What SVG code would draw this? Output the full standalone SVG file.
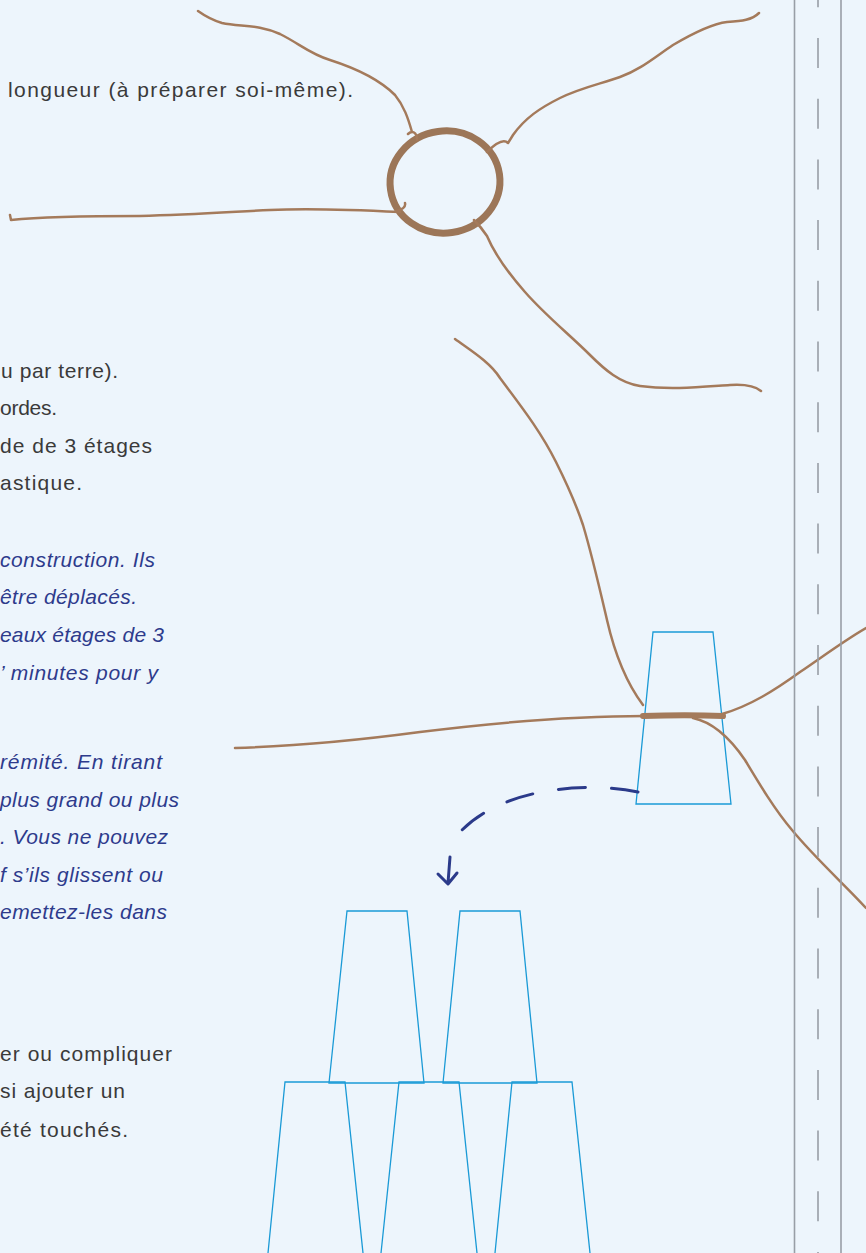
<svg xmlns="http://www.w3.org/2000/svg" width="866" height="1253" viewBox="0 0 866 1253">
  <defs>
    <style>
      .txt { font-family: "Liberation Sans", "DejaVu Sans", sans-serif; font-size: 21px; fill: #3a3a3a; }
      .note { font-family: "Liberation Sans", "DejaVu Sans", sans-serif; font-size: 21px; font-style: italic; fill: #2e3b8c; }
      .rope { fill: none; stroke: #a47a5b; stroke-width: 2.5; stroke-linecap: round; stroke-linejoin: round; }
      .ring { fill: none; stroke: #9c7658; stroke-width: 7; }
      .band { fill: none; stroke: #a47a5b; stroke-width: 6; stroke-linecap: round; }
      .cup { fill: none; stroke: #1a9ad6; stroke-width: 1.3; stroke-linejoin: miter; }
      .rail { stroke: #989ea6; stroke-width: 1.6; fill: none; }
      .move { fill: none; stroke: #2b3a8a; stroke-width: 3; stroke-linecap: round; stroke-linejoin: round; }
    </style>
  </defs>

  <rect x="0" y="0" width="866" height="1253" fill="#edf5fc"/>

  <!-- instructions text along the left edge of the page -->
  <g id="text">
    <text class="txt" x="8" y="97" textLength="345" lengthAdjust="spacing">longueur (à préparer soi-même).</text>
    <text class="txt" x="1" y="378" textLength="117" lengthAdjust="spacing">u par terre).</text>
    <text class="txt" x="0" y="415" textLength="57" lengthAdjust="spacing">ordes.</text>
    <text class="txt" x="0" y="453" textLength="152" lengthAdjust="spacing">de de 3 étages</text>
    <text class="txt" x="0" y="490" textLength="82" lengthAdjust="spacing">astique.</text>

    <text class="note" x="0" y="567" textLength="155" lengthAdjust="spacing">construction. Ils</text>
    <text class="note" x="0" y="604" textLength="137" lengthAdjust="spacing">être déplacés.</text>
    <text class="note" x="0" y="642" textLength="164" lengthAdjust="spacing">eaux étages de 3</text>
    <text class="note" x="0" y="680" textLength="158" lengthAdjust="spacing">’ minutes pour y</text>
    <text class="note" x="0" y="769" textLength="162" lengthAdjust="spacing">rémité. En tirant</text>
    <text class="note" x="0" y="807" textLength="179" lengthAdjust="spacing">plus grand ou plus</text>
    <text class="note" x="0" y="844" textLength="168" lengthAdjust="spacing">. Vous ne pouvez</text>
    <text class="note" x="0" y="882" textLength="163" lengthAdjust="spacing">f s’ils glissent ou</text>
    <text class="note" x="0" y="919" textLength="167" lengthAdjust="spacing">emettez-les dans</text>

    <text class="txt" x="0" y="1061" textLength="172" lengthAdjust="spacing">er ou compliquer</text>
    <text class="txt" x="0" y="1098" textLength="125" lengthAdjust="spacing">si ajouter un</text>
    <text class="txt" x="0" y="1137" textLength="128" lengthAdjust="spacing">été touchés.</text>
  </g>

  <!-- ring with four tied ropes -->
  <g id="ring-knot">
    <ellipse class="ring" cx="445" cy="182" rx="55" ry="51" transform="rotate(-8 445 182)"/>
    <path class="rope" d="M198,11 C205,16 212,20 222,23 C240,27 258,24 280,34 C300,44 310,54 330,60 C355,68 380,80 395,95 C404,106 408,118 412,132 M408,134 C412,130 417,132 417,140"/>
    <path class="rope" d="M759,13 C752,20 742,21 727,22 C710,24 690,35 673,45 C655,57 640,70 620,77 C600,84 580,88 560,98 C540,108 525,118 513,135 L508,143 C504,139 497,142 487,152"/>
    <path class="rope" d="M10,215 L11,220 C40,217 90,216 140,216 C190,215 230,212 270,210 C310,208 360,210 400,212 M396,211 C402,210 406,207 405,203"/>
    <path class="rope" d="M474,220 C478,224 483,230 487,236 C495,255 510,275 525,292 C545,315 570,335 590,355 C605,370 620,383 640,386 C670,390 700,387 730,385 C745,384 755,386 761,391"/>
  </g>

  <!-- single cup with the rope bundle around it -->
  <g id="cup-single">
    <path class="cup" d="M653,632 L713,632 L731,804 L636,804 Z"/>
  </g>
  <g id="rope-bundle">
    <path class="rope" d="M455,339 C470,350 490,362 500,378 C520,405 540,430 556,462 C570,490 578,510 583,525 C592,555 600,590 607,620 C615,655 628,685 643,705"/>
    <path class="rope" d="M235,748 C300,746 360,740 420,732 C500,722 570,716 645,716"/>
    <path class="rope" d="M722,714 C750,706 775,690 800,672 C825,655 845,640 866,628"/>
    <path class="rope" d="M693,718 C712,722 730,738 745,760 C760,785 775,810 792,830 C815,858 845,885 866,908"/>
    <path class="band" d="M643,716 C670,715 700,715 723,716"/>
  </g>

  <!-- pyramid of cups: two on top of three -->
  <g id="cup-top-left"><path class="cup" d="M347,911 L407,911 L424,1083 L329,1083 Z"/></g>
  <g id="cup-top-right"><path class="cup" d="M460,911 L520,911 L537,1083 L443,1083 Z"/></g>
  <g id="cup-bottom-1"><path class="cup" d="M268,1253 L285,1082 L345,1082 L363,1253"/></g>
  <g id="cup-bottom-2"><path class="cup" d="M381,1253 L399,1082 L459,1082 L477,1253"/></g>
  <g id="cup-bottom-3"><path class="cup" d="M495,1253 L512,1082 L572,1082 L590,1253"/></g>

  <!-- dashed move arrow from the single cup to the pyramid -->
  <g id="connectors">
    <path class="move" d="M638,792 C590,782 505,786 461,831" stroke-dasharray="27 26"/>
    <path class="move" d="M450,857 L448,883 M438,874 L448,884 L457,873"/>
  </g>

  <!-- fold/cut rails on the right margin -->
  <g id="rails">
    <line class="rail" x1="794.5" y1="0" x2="794.5" y2="1253"/>
    <line class="rail" x1="841" y1="0" x2="841" y2="1253"/>
    <line class="rail" x1="818" y1="0" x2="818" y2="1253" stroke-dasharray="30 30.7" stroke-dashoffset="22.7"/>
  </g>
</svg>
